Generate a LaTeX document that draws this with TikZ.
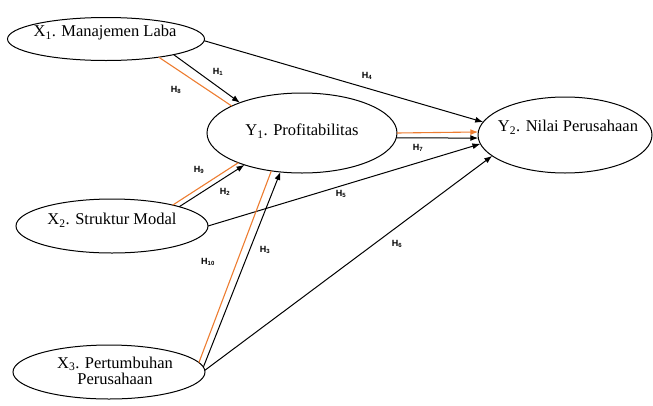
\documentclass[tikz,border=0pt]{standalone}
\usepackage{fontspec}
\setmainfont{Liberation Serif}
\newfontfamily\lblfont{Liberation Sans}
\usetikzlibrary{shapes.geometric,arrows.meta}
\definecolor{orangeline}{RGB}{237,125,49}
\begin{document}
\begin{tikzpicture}[x=1pt,y=-1pt,
  var/.style={draw, ellipse, line width=1pt, inner sep=0pt, outer sep=0pt},
  vtext/.style={font=\fontsize{16.5}{16}\selectfont, inner sep=0pt, align=center},
  hyp/.style={font=\lblfont\bfseries\fontsize{9}{10}\selectfont, inner sep=0pt},
  blk/.style={draw=black, line width=1pt, -{Latex[length=8pt,width=6pt]}},
  org/.style={draw=orangeline, line width=1.1pt},
  orgarrow/.style={org, -{Latex[length=8pt,width=6pt]}}]
\useasboundingbox (0,0) rectangle (653,405);
% variables
\node[var, minimum width=197pt, minimum height=43pt] (X1) at (106,39) {};
\node[var, minimum width=190pt, minimum height=80pt] (Y1) at (302,133) {};
\node[var, minimum width=174pt, minimum height=76pt] (Y2) at (565,135) {};
\node[var, minimum width=192pt, minimum height=54pt] (X2) at (112,226) {};
\node[var, minimum width=192pt, minimum height=54pt] (X3) at (109,372) {};
% texts
\node[vtext] (tX1) at (105,33) {X\textsubscript{1}. Manajemen Laba};
\node[vtext] (tY1) at (302,131) {Y\textsubscript{1}. Profitabilitas};
\node[vtext] (tY2) at (568,127) {Y\textsubscript{2}. Nilai Perusahaan};
\node[vtext] (tX2) at (112,220) {X\textsubscript{2}. Struktur Modal};
\node[vtext, font=\fontsize{16.5}{16.5}\selectfont] (tX3) at (115,371) {X\textsubscript{3}. Pertumbuhan\\Perusahaan};
% connectors
\draw[org] (X1.-19) -- (Y1.159.5);
\draw[blk] (X1.-13.5) -- (Y1.154.9);
\draw[blk] (X1.-1.8) -- (Y2.171.8);
\draw[orgarrow] (Y1.0.6) -- (Y2.178.7);
\draw[blk] (Y1.-3.6) -- (Y2.182.7);
\draw[org] (X2.19.2) -- (Y1.-155.9);
\draw[blk] (X2.16.7) -- (Y1.-151.3);
\draw[blk] (X2.0.6) -- (Y2.186.7);
\draw[org] (X3.6.4) -- (Y1.-129.5);
\draw[blk] (X3.3) -- (Y1.-119.7);
\draw[blk] (X3.1.8) -- (Y2.196.3);
% hypothesis labels
\node[hyp] (h1) at (218,72) {H\textsubscript{1}};
\node[hyp] (h8) at (176,90) {H\textsubscript{8}};
\node[hyp] (h4) at (367,76) {H\textsubscript{4}};
\node[hyp] (h7) at (418,148) {H\textsubscript{7}};
\node[hyp] (h9) at (199,170) {H\textsubscript{9}};
\node[hyp] (h2) at (225,192) {H\textsubscript{2}};
\node[hyp] (h5) at (341,194) {H\textsubscript{5}};
\node[hyp] (h6) at (397,244) {H\textsubscript{6}};
\node[hyp] (h10) at (208,262) {H\textsubscript{10}};
\node[hyp] (h3) at (265,250) {H\textsubscript{3}};
\end{tikzpicture}
\end{document}
